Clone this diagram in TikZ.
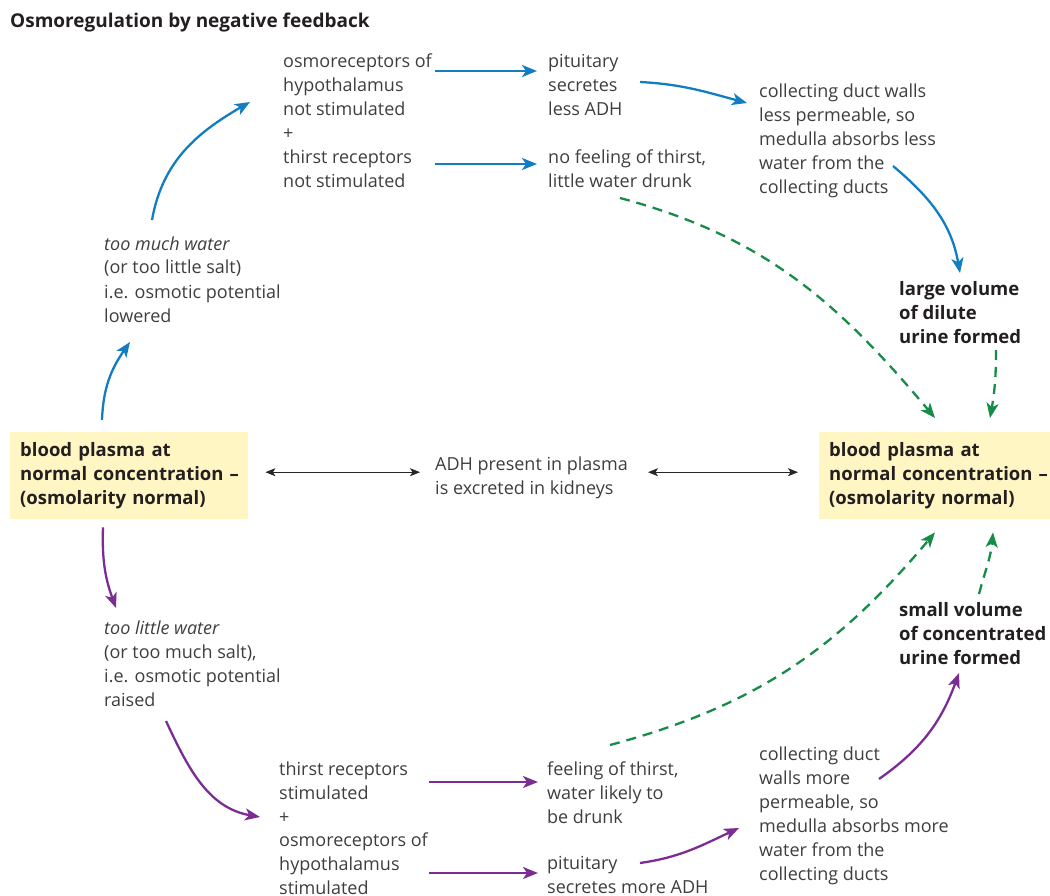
\documentclass[tikz,border=0pt]{standalone}
\usepackage{fontspec}
\setmainfont{Open Sans}
\usetikzlibrary{arrows.meta, positioning}
\definecolor{adhblue}{RGB}{18,125,192}
\definecolor{adhpurple}{RGB}{122,46,146}
\definecolor{adhgreen}{RGB}{22,140,72}
\definecolor{plasmayellow}{RGB}{255,246,196}
\definecolor{bodytext}{RGB}{62,62,62}
\definecolor{darktext}{RGB}{35,31,32}

\begin{document}
\begin{tikzpicture}[x=1pt, y=1pt,
    txt/.style={font=\fontsize{18}{24}\selectfont, text=bodytext, align=left, inner sep=0pt, anchor=base west},
    boldtxt/.style={txt, font=\fontsize{18.5}{24}\selectfont\bfseries, text=darktext},
    plasma/.style={boldtxt, fill=plasmayellow, anchor=north west, minimum height=87pt, text width=218pt, inner xsep=10pt, inner ysep=0pt},
    bluearr/.style={draw=adhblue, line width=2.3pt, -{Stealth[length=15pt, width=12pt, inset=4pt]}},
    purparr/.style={bluearr, draw=adhpurple},
    greenarr/.style={bluearr, draw=adhgreen, dash pattern=on 10pt off 7pt},
    blackarr/.style={draw=black!85, line width=1.1pt, {Stealth[length=10pt, width=8pt, inset=2.5pt]}-{Stealth[length=10pt, width=8pt, inset=2.5pt]}}]
  \useasboundingbox (0,0) rectangle (1050,-896);

  \node[boldtxt, font=\fontsize{19}{24}\selectfont\bfseries] (title) at (10,-28) {Osmoregulation by negative feedback};

  % plasma boxes and the middle text
  \node[plasma] (lbox) at (10,-432) {blood plasma at\\\mbox{normal concentration –}\\(osmolarity normal)};
  \node[plasma] (rbox) at (819,-432) {blood plasma at\\\mbox{normal concentration –}\\(osmolarity normal)};
  \node[txt] (adh) at (435,-494) {ADH present in plasma\\is excreted in kidneys};

  % too much water
  \node[txt] (much) at (104,-322) {\textit{too much water}\\(or too little salt)\\i.e. osmotic potential\\lowered};
  \node[txt] (osmno) at (283,-116) {osmoreceptors of\\hypothalamus\\not stimulated};
  \node[txt] (plusno) at (283,-140) {+};
  \node[txt] (thirstno) at (283,-188) {thirst receptors\\not stimulated};
  \node[txt] (pitless) at (548,-116) {pituitary\\secretes\\less ADH};
  \node[txt] (nofeel) at (548,-188) {no feeling of thirst,\\little water drunk};
  \node[txt] (wallless) at (759,-194) {collecting duct walls\\less permeable, so\\medulla absorbs less\\water from the\\collecting ducts};
  \node[boldtxt] (dilute) at (899,-343) {large volume\\of dilute\\urine formed};

  % too little water
  \node[txt] (little) at (104,-706) {\textit{too little water}\\(or too much salt),\\i.e. osmotic potential\\raised};
  \node[txt] (thirstyes) at (279,-799) {thirst receptors\\stimulated};
  \node[txt] (plusyes) at (279,-823) {+};
  \node[txt] (osmyes) at (279,-894) {osmoreceptors of\\hypothalamus\\stimulated};
  \node[txt] (feel) at (547,-823) {feeling of thirst,\\water likely to\\be drunk};
  \node[txt] (pitmore) at (547,-893) {pituitary\\secretes more ADH};
  \node[txt] (wallmore) at (759,-880) {collecting duct\\walls more\\permeable, so\\medulla absorbs more\\water from the\\collecting ducts};
  \node[boldtxt] (conc) at (899,-664) {small volume\\of concentrated\\urine formed};

  % ADH both ways
  \draw[blackarr] ([xshift=17pt, yshift=3.5pt]lbox.east) -- ([xshift=-15pt, yshift=3.5pt]lbox.east -| adh.west);
  \draw[blackarr] ([xshift=213pt, yshift=3.5pt]rbox.west -| adh.west) -- ([xshift=-21pt, yshift=3.5pt]rbox.west);

  % upper loop
  \draw[bluearr] ([xshift=92pt, yshift=12pt]lbox.north west) to[out=88, in=235] ([xshift=26pt, yshift=-20pt]much.base west);
  \draw[bluearr] ([xshift=48pt, yshift=102pt]much.base west) to[out=80, in=210] ([xshift=-33pt, yshift=14pt]osmno.base west);
  \draw[bluearr] ([xshift=152pt, yshift=45pt]osmno.base west) -- ([xshift=-11pt, yshift=45pt]pitless.base west);
  \draw[bluearr] ([xshift=152pt, yshift=24pt]thirstno.base west) -- ([xshift=-11pt, yshift=24pt]nofeel.base west);
  \draw[bluearr] ([xshift=92pt, yshift=34pt]pitless.base west) to[out=-3, in=165] ([xshift=-12pt, yshift=91pt]wallless.base west);
  \draw[bluearr] ([xshift=134pt, yshift=28pt]wallless.base west) to[out=-40, in=100] ([xshift=61pt, yshift=70pt]dilute.base west);
  \draw[greenarr] ([xshift=72pt, yshift=-10pt]nofeel.base west) to[out=-15, in=130] ([xshift=116pt, yshift=14pt]rbox.north west);
  \draw[greenarr] ([xshift=97pt, yshift=-7pt]dilute.base west) to[out=-90, in=80] ([xshift=171pt, yshift=14pt]rbox.north west);

  % lower loop
  \draw[purparr] ([xshift=93pt, yshift=-8pt]lbox.south west) to[out=-92, in=110] ([xshift=12pt, yshift=98pt]little.base west);
  \draw[purparr] ([xshift=62pt, yshift=-15pt]little.base west) to[out=-65, in=170] ([xshift=-19pt, yshift=-18pt]thirstyes.base west);
  \draw[purparr] ([xshift=150pt, yshift=17pt]thirstyes.base west) -- ([xshift=-9pt, yshift=41pt]feel.base west);
  \draw[purparr] ([xshift=150pt, yshift=21pt]osmyes.base west) -- ([xshift=-9pt, yshift=20pt]pitmore.base west);
  \draw[purparr] ([xshift=93pt, yshift=30pt]pitmore.base west) to[out=8, in=205] ([xshift=-20pt, yshift=52pt]wallmore.base west);
  \draw[purparr] ([xshift=120pt, yshift=101pt]wallmore.base west) to[out=35, in=250] ([xshift=60pt, yshift=-9pt]conc.base west);
  \draw[greenarr] ([xshift=63pt, yshift=78pt]feel.base west) to[out=15, in=230] ([xshift=116pt, yshift=-13pt]rbox.south west);
  \draw[greenarr] ([xshift=80pt, yshift=70pt]conc.base west) to[out=75, in=265] ([xshift=174pt, yshift=-13pt]rbox.south west);
\end{tikzpicture}
\end{document}
